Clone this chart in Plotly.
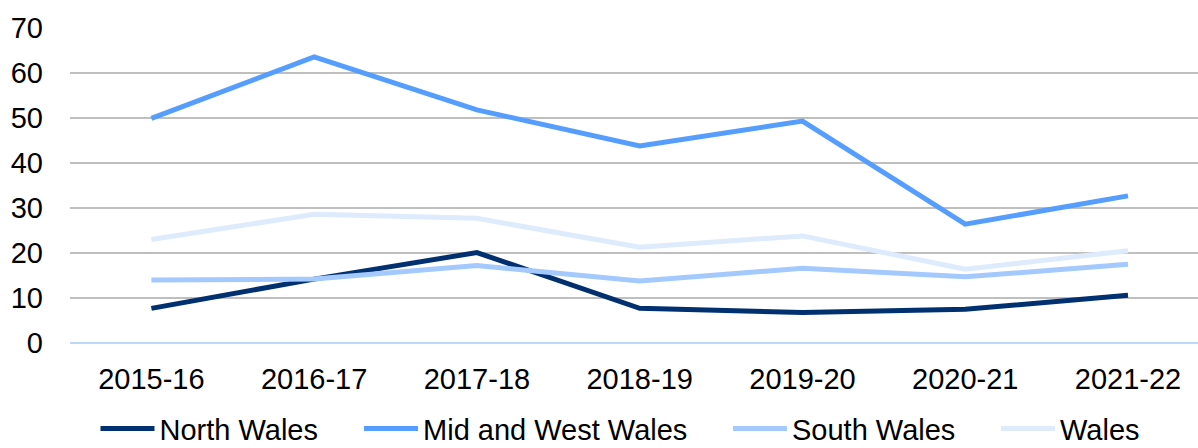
import plotly.graph_objects as go

years = ["2015-16", "2016-17", "2017-18", "2018-19", "2019-20", "2020-21", "2021-22"]
north_wales = [7.7, 14.2, 20.1, 7.7, 6.8, 7.5, 10.6]
mid_west_wales = [49.9, 63.6, 51.8, 43.8, 49.3, 26.4, 32.7]
south_wales = [14.0, 14.2, 17.2, 13.8, 16.6, 14.7, 17.5]
wales = [23.0, 28.6, 27.7, 21.3, 23.8, 16.4, 20.5]

series = [
    ("North Wales", north_wales, "#003070"),
    ("Mid and West Wales", mid_west_wales, "#559DFF"),
    ("South Wales", south_wales, "#A3C9FF"),
    ("Wales", wales, "#DDEBFD"),
]
# horizontal start of each legend entry (fraction of figure width)
legend_x = [0.0797, 0.2997, 0.6077, 0.8314]

FONT = "Liberation Sans, Arial, sans-serif"

fig = go.Figure()
legend_layout = {}
for i, ((name, vals, color), lx) in enumerate(zip(series, legend_x)):
    key = "legend" if i == 0 else f"legend{i + 1}"
    fig.add_trace(go.Scatter(
        x=years, y=vals, name=name, mode="lines",
        line=dict(color=color, width=5), legend=key,
    ))
    legend_layout[key] = dict(
        orientation="h", xref="container", yref="container",
        x=lx, xanchor="left", y=0.043, yanchor="middle",
        font=dict(size=29, family=FONT, color="black"), itemwidth=54,
        bgcolor="rgba(0,0,0,0)", borderwidth=0,
    )

fig.update_layout(
    width=1198, height=448,
    margin=dict(l=70, r=0, t=28, b=105),
    paper_bgcolor="white", plot_bgcolor="white",
    font=dict(family=FONT, size=29, color="black"),
    showlegend=True,
    xaxis=dict(
        type="category", range=[-0.5, 6.43], showgrid=False, automargin=False,
        showline=False, zeroline=False, ticks="", ticklabelstandoff=16,
        tickfont=dict(size=29),
    ),
    yaxis=dict(
        range=[0, 70], dtick=10, tick0=0, showgrid=True, automargin=False,
        gridcolor="#BFBFBF", gridwidth=1.5, zeroline=True,
        zerolinecolor="#BDD7F8", zerolinewidth=1.5, showline=False,
        ticks="", ticklabelstandoff=26, tickfont=dict(size=29),
    ),
    **legend_layout,
)

fig.write_html(
    "out.html",
    config={"displayModeBar": False},
    post_script="document.body.style.margin='0';",
)
